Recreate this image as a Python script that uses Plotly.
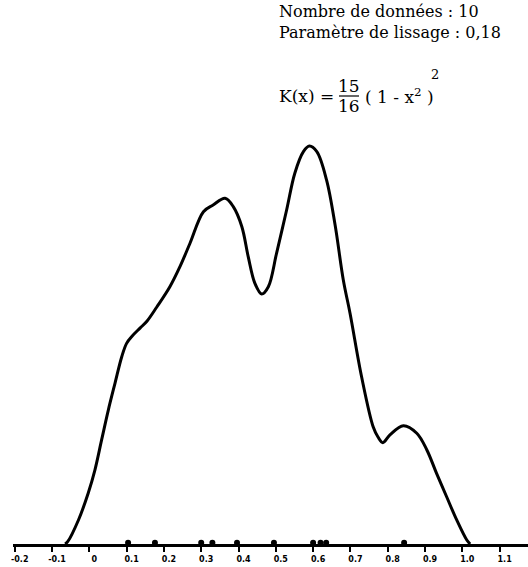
import plotly.graph_objects as go

# Kernel density curve
curve_x = [-0.065, -0.058, -0.029, -0.003, 0.015, 0.033, 0.051, 0.069, 0.087, 0.100,
           0.115, 0.136, 0.155, 0.181, 0.216, 0.243, 0.270, 0.306, 0.332,
           0.364, 0.386, 0.409, 0.426, 0.444, 0.462, 0.480, 0.502, 0.529, 0.551,
           0.574, 0.590, 0.610, 0.636, 0.659, 0.681, 0.699, 0.730,
           0.761, 0.774, 0.787, 0.806, 0.842, 0.878, 0.905, 0.931, 0.958,
           0.985, 1.012, 1.021]
curve_y = [0.000, 0.011, 0.115, 0.243, 0.354, 0.498, 0.641, 0.770, 0.896, 0.960,
           0.995, 1.033, 1.067, 1.134, 1.231, 1.327, 1.439, 1.590, 1.622,
           1.654, 1.614, 1.518, 1.375, 1.247, 1.196, 1.231, 1.391, 1.598, 1.774,
           1.877, 1.904, 1.877, 1.742, 1.526, 1.263, 1.104, 0.800,
           0.561, 0.512, 0.485, 0.522, 0.566, 0.530, 0.450, 0.338, 0.226,
           0.115, 0.019, 0.000]

# Observations marked on the axis
data_x = [0.104, 0.176, 0.300, 0.330, 0.396, 0.495, 0.600, 0.620, 0.635, 0.844]

tick_vals = [-0.2, -0.1, 0.0, 0.1, 0.2, 0.3, 0.4, 0.5, 0.6, 0.7, 0.8, 0.9, 1.0, 1.1]
tick_text = ["-0.2", "-0.1", "0", "0.1", "0.2", "0.3", "0.4", "0.5", "0.6", "0.7",
             "0.8", "0.9", "1.0", "1.1"]

W, H = 528, 567
ML, MB = 13, 23
PW, PH = W - ML, H - MB
X0_PAGE = 89.3      # pixel of x = 0
SCALE_X = 373.0     # pixels per unit on x
SCALE_Y = 209.0     # pixels per unit on y


def px(xp):
    return (xp - ML) / PW


def py(yp):
    return (PH - yp) / PH


fig = go.Figure()
fig.add_trace(go.Scatter(x=curve_x, y=curve_y, mode="lines",
                         line=dict(color="black", width=3, shape="spline", smoothing=1.0),
                         hoverinfo="skip", showlegend=False))
fig.add_trace(go.Scatter(x=data_x, y=[0.006] * len(data_x), mode="markers",
                         marker=dict(color="black", size=6, symbol="circle"),
                         cliponaxis=False, hoverinfo="skip", showlegend=False))

serif = "DejaVu Serif"
FS = 17
ann = []
ann.append(dict(text="Nombre de données : 10<br>Paramètre de lissage : 0,18",
                x=px(277), y=py(22), xanchor="left", yanchor="middle", align="left",
                font=dict(family=serif, size=16, color="black")))
ann.append(dict(text="K(x) =", x=px(277), y=py(96), xanchor="left",
                yanchor="middle", font=dict(family=serif, size=FS, color="black")))
ann.append(dict(text="15", x=px(349), y=py(86), xanchor="center",
                yanchor="middle", font=dict(family=serif, size=FS, color="black")))
ann.append(dict(text="16", x=px(349), y=py(106), xanchor="center",
                yanchor="middle", font=dict(family=serif, size=FS, color="black")))
ann.append(dict(text="( 1 - x<sup>2</sup> )", x=px(363), y=py(96), xanchor="left",
                yanchor="middle", font=dict(family=serif, size=FS, color="black")))
ann.append(dict(text="2", x=px(435), y=py(75), xanchor="center",
                yanchor="middle", font=dict(family=serif, size=13, color="black")))
for a in ann:
    a.update(xref="paper", yref="paper", showarrow=False)

x_left = (ML - X0_PAGE) / SCALE_X
x_right = (W - X0_PAGE) / SCALE_X

fig.update_layout(
    width=W, height=H, autosize=False,
    margin=dict(l=ML, r=0, t=0, b=MB, pad=0),
    paper_bgcolor="white", plot_bgcolor="white",
    font=dict(color="black"),
    annotations=ann,
    shapes=[dict(type="line", xref="paper", yref="paper",
                 x0=px(339), x1=px(359), y0=py(96), y1=py(96),
                 line=dict(color="black", width=1.2))],
    xaxis=dict(range=[x_left, x_right],
               showgrid=False, zeroline=False, showline=True, linecolor="black",
               linewidth=3, ticks="outside", ticklen=5, tickwidth=2, tickcolor="black",
               tickvals=tick_vals, ticktext=tick_text, ticklabelshift=5,
               tickfont=dict(family="DejaVu Sans", size=8, color="black", weight="bold")),
    yaxis=dict(range=[0, PH / SCALE_Y], visible=False, showgrid=False, zeroline=False),
)

fig.write_html("out.html", config={"displayModeBar": False},
               post_script="document.body.style.margin='0';document.body.style.padding='0';")
